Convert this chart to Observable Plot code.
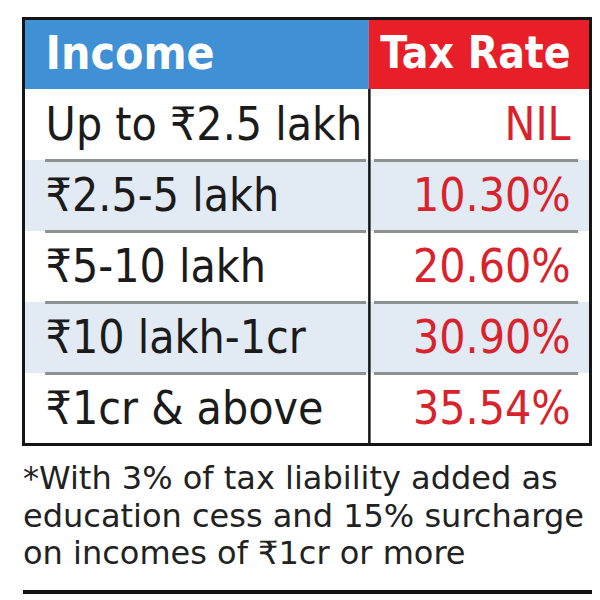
<!DOCTYPE html>
<html>
<head>
<meta charset="utf-8">
<script src="https://cdn.jsdelivr.net/npm/d3@7"></script>
<script src="https://cdn.jsdelivr.net/npm/@observablehq/plot@0.6"></script>
<style>
  html, body { margin: 0; padding: 0; background: #fff; }
  #chart svg { display: block; }
  .hdr text { font-family: "DejaVu Sans Condensed", "DejaVu Sans", sans-serif; font-stretch: condensed; }
  .body text { font-family: "DejaVu Sans Condensed", "DejaVu Sans", sans-serif; font-stretch: condensed; }
  #note {
    margin-left: 23px; width: 569px;
    font-family: "DejaVu Sans", sans-serif;
    font-size: 32px; line-height: 37.5px; color: #222; white-space: nowrap;
    padding-top: 10px; padding-bottom: 17.5px; border-bottom: 4px solid #151515;
  }
</style>
</head>
<body>
<div id="chart"></div>
<div id="note"></div>
<script>
// ---- data ----
const headers = ["Income", "Tax Rate"];
const income = ["Up to ₹2.5 lakh", "₹2.5-5 lakh", "₹5-10 lakh", "₹10 lakh-1cr", "₹1cr & above"];
const taxRate = ["NIL", "10.30%", "20.60%", "30.90%", "35.54%"];
const footnote = [
  "*With 3% of tax liability added as",
  "education cess and 15% surcharge",
  "on incomes of ₹1cr or more"
];

// ---- layout ----
const SPLIT = 0.61;      // column divider (fraction of table width)
const PAD_L = 0.039;     // left text inset
const PAD_R = 0.965;     // right text inset
const BLUE = "#3f90d4", RED = "#e81e28", SHADE = "#e2eaf4", RATE_RED = "#d9232c";

const rows = income.map((d, i) => ({income: d, rate: taxRate[i], row: i + 1}));
const cols = headers.map((h, i) => ({
  name: h,
  x1: i === 0 ? 0 : SPLIT,
  x2: i === 0 ? SPLIT : 1,
  fill: i === 0 ? BLUE : RED
}));

const chart = Plot.plot({
  width: 600,
  height: 450,
  marginLeft: 23,
  marginRight: 10,
  marginTop: 18,
  marginBottom: 6,
  x: {domain: [0, 1], axis: null},
  y: {domain: [0, rows.length + 1], reverse: true, axis: null},
  marks: [
    Plot.rect(cols, {x1: "x1", x2: "x2", y1: () => 0, y2: () => 1, fill: "fill"}),
    Plot.rect(rows.filter(d => d.row % 2 === 0), {x1: () => 0, x2: () => 1, y1: "row", y2: d => d.row + 1, fill: SHADE}),
    Plot.ruleY(rows.slice(1), {y: "row", x1: () => PAD_L, x2: () => SPLIT - 0.005, stroke: "#8a9292", strokeWidth: 3}),
    Plot.ruleY(rows.slice(1), {y: "row", x1: () => SPLIT + 0.009, x2: () => 0.979, stroke: "#8a9292", strokeWidth: 3}),
    Plot.ruleX([SPLIT], {y1: () => 1, y2: () => rows.length + 1, stroke: "#151515", strokeWidth: 2.5}),
    Plot.text(cols.slice(0, 1), {x: () => PAD_L, y: () => 0.5, text: "name", textAnchor: "start", fill: "white",
      fontSize: 46, fontWeight: "bold", className: "hdr"}),
    Plot.text(cols.slice(1), {x: () => PAD_R, y: () => 0.5, text: "name", textAnchor: "end", fill: "white",
      fontSize: 44, fontWeight: "bold", className: "hdr"}),
    Plot.text(rows, {x: () => PAD_L, y: d => d.row + 0.5, text: "income", textAnchor: "start",
      fill: "#1b1b1b", fontSize: 46, className: "body"}),
    Plot.text(rows, {x: () => PAD_R, y: d => d.row + 0.5, text: "rate", textAnchor: "end",
      fill: RATE_RED, fontSize: 46, className: "body"}),
    Plot.frame({stroke: "#151515", strokeWidth: 3})
  ]
});
document.getElementById("chart").appendChild(chart);

const note = document.getElementById("note");
footnote.forEach(line => {
  const div = document.createElement("div");
  div.textContent = line;
  note.appendChild(div);
});
</script>
</body>
</html>
